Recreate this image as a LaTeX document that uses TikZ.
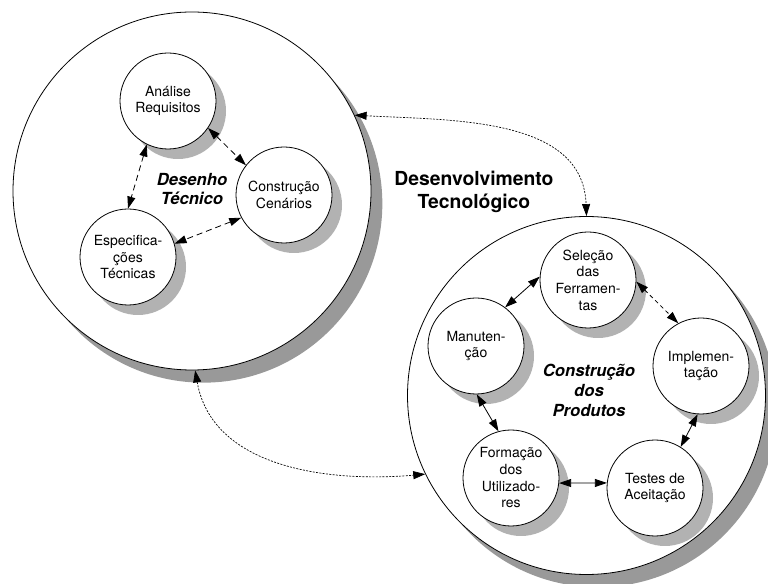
\documentclass[tikz,border=0pt]{standalone}
\usepackage{fontspec}
\setmainfont{TeX Gyre Heros}
\usetikzlibrary{arrows.meta}
\usetikzlibrary{shadows}

\begin{document}
\begin{tikzpicture}[x=0.75pt,y=-0.75pt,
  area/.style={circle, draw, fill=white, line width=0.6pt, minimum size=268.5pt, inner sep=0pt,
    general shadow={fill=black!40, shadow xshift=8.5pt, shadow yshift=-9.5pt}},
  task/.style={circle, draw, fill=white, line width=0.6pt, minimum size=72pt, inner sep=0pt,
    align=center, font=\fontsize{10.5}{12.5}\selectfont,
    general shadow={fill=black!30, shadow xshift=7.5pt, shadow yshift=-7.5pt}},
  group/.style={align=center, font=\fontsize{12.5}{14.5}\selectfont\bfseries\itshape},
  link/.style={{Triangle[length=9pt,width=6pt]}-{Triangle[length=9pt,width=6pt]}, line width=0.6pt},
  dlink/.style={link, dash pattern=on 4.5pt off 3pt},
  flow/.style={{Triangle[length=9pt,width=6pt]}-{Triangle[length=9pt,width=6pt]}, line width=0.5pt,
    dash pattern=on 1.5pt off 1pt}]
\useasboundingbox (0,0) rectangle (768,584);

\node[area] (tec) at (192,191) {};
\node[area] (prd) at (586.5,395.5) {};

\node[task] (ana) at (168,101) {Análise\\Requisitos};
\node[task] (cen) at (284,195) {Construção\\Cenários};
\node[task] (esp) at (128,257) {Especifica-\\ções\\Técnicas};
\node[group] (dtec) at (192,189) {Desenho\\Técnico};

\node[task] (sel) at (588,280) {Seleção\\das\\Ferramen-\\tas};
\node[task] (man) at (476,346) {Manuten-\\ção};
\node[task] (imp) at (701,366) {Implemen-\\tação};
\node[task] (frm) at (511,478) {Formação\\dos\\Utilizado-\\res};
\node[task] (tst) at (655,488) {Testes de\\Aceitação};
\node[group, font=\fontsize{12.5}{15}\selectfont\bfseries\itshape] (cprd) at (589,390)
  {Construção\\dos\\Produtos};

\node[align=center, font=\fontsize{14.5}{17.25}\selectfont\bfseries] (title) at (474,192)
  {Desenvolvimento\\Tecnológico};

\draw[dlink] (ana.-34) -- (cen.142);
\draw[dlink] (ana.-116) -- (esp.90);
\draw[dlink] (cen.-152) -- (esp.16);

\draw[link] (sel.176) -- (man.53);
\draw[link, dash pattern=on 3pt off 2.5pt] (sel.-2) -- (imp.118);
\draw[link] (imp.-94) -- (tst.58);
\draw[link] (tst.174) -- (frm.-6);
\draw[link] (man.-89) -- (frm.105);

\draw[flow] (tec.25) to[out=-3,in=92] (prd.90);
\draw[flow] (tec.-89) to[out=-80,in=185] (prd.-154);
\end{tikzpicture}
\end{document}
